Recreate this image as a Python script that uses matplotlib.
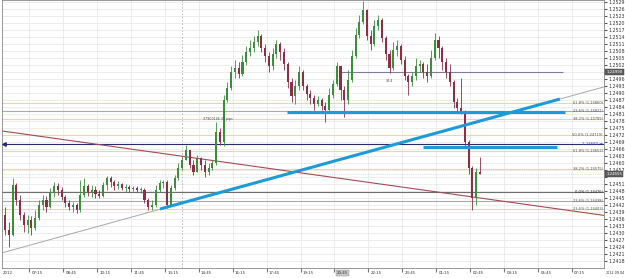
import numpy as np
import matplotlib.pyplot as plt
from matplotlib.transforms import blended_transform_factory

# ---- candle data (M5 style) ----
first_open = 1.24378
closes = [1.24313, 1.24292, 1.24506, 1.24442, 1.24378, 1.24335, 1.24356, 1.24322, 1.24365, 1.24421,
          1.24442, 1.24412, 1.24472, 1.24502, 1.24485, 1.24455, 1.24429, 1.24412, 1.24421, 1.24399,
          1.24463, 1.24502, 1.24476, 1.24485, 1.24468, 1.24459, 1.24506, 1.24536, 1.24519, 1.24502,
          1.24511, 1.24493, 1.24498, 1.24489, 1.24493, 1.24485, 1.24485, 1.24442, 1.24412, 1.24421,
          1.24485, 1.24515, 1.24519, 1.24421, 1.24493, 1.24536, 1.24579, 1.24613, 1.24656, 1.24592,
          1.24562, 1.24622, 1.24592, 1.24562, 1.24579, 1.24601, 1.24734, 1.24691, 1.24871, 1.24922,
          1.24991, 1.25008, 1.24983, 1.25034, 1.25077, 1.25094, 1.25120, 1.25146, 1.25094, 1.25060,
          1.25017, 1.25068, 1.25111, 1.25077, 1.25025, 1.24948, 1.24888, 1.24931, 1.24991, 1.24931,
          1.24897, 1.24880, 1.24854, 1.24871, 1.24845, 1.24828, 1.24892, 1.24940, 1.25017, 1.24914,
          1.24871, 1.24957, 1.25060, 1.25150, 1.25206, 1.25257, 1.25146, 1.25111, 1.25188, 1.25214,
          1.25137, 1.25068, 1.25008, 1.25085, 1.25103, 1.25043, 1.24974, 1.24948, 1.24974, 1.25017,
          1.25025, 1.24991, 1.24974, 1.25051, 1.25128, 1.25094, 1.25034, 1.24991, 1.24948, 1.24862,
          1.24837, 1.24820, 1.24691, 1.24579, 1.24450, 1.24562, 1.24555]
highs = [1.24412, 1.24348, 1.24536, 1.24515, 1.24463, 1.24390, 1.24378, 1.24373, 1.24399, 1.24442,
         1.24463, 1.24459, 1.24493, 1.24519, 1.24515, 1.24498, 1.24463, 1.24442, 1.24433, 1.24429,
         1.24528, 1.24536, 1.24511, 1.24506, 1.24502, 1.24485, 1.24519, 1.24545, 1.24545, 1.24528,
         1.24524, 1.24515, 1.24511, 1.24506, 1.24502, 1.24502, 1.24498, 1.24493, 1.24450, 1.24442,
         1.24506, 1.24528, 1.24528, 1.24528, 1.24506, 1.24549, 1.24601, 1.24631, 1.24678, 1.24656,
         1.24613, 1.24635, 1.24626, 1.24613, 1.24601, 1.24613, 1.24777, 1.24751, 1.24892, 1.24948,
         1.25017, 1.25043, 1.25034, 1.25064, 1.25103, 1.25128, 1.25146, 1.25171, 1.25154, 1.25111,
         1.25077, 1.25094, 1.25128, 1.25120, 1.25094, 1.25034, 1.24965, 1.24957, 1.25017, 1.25000,
         1.24940, 1.24914, 1.24892, 1.24888, 1.24880, 1.24862, 1.24922, 1.24957, 1.25034, 1.25017,
         1.24931, 1.25000, 1.25085, 1.25180, 1.25236, 1.25295, 1.25262, 1.25171, 1.25214, 1.25236,
         1.25223, 1.25146, 1.25085, 1.25120, 1.25128, 1.25111, 1.25060, 1.24983, 1.24991, 1.25051,
         1.25043, 1.25034, 1.25025, 1.25085, 1.25158, 1.25146, 1.25103, 1.25051, 1.25025, 1.24957,
         1.24880, 1.24965, 1.24828, 1.24699, 1.24588, 1.24579, 1.24626]
lows = [1.24292, 1.24240, 1.24288, 1.24421, 1.24356, 1.24305, 1.24300, 1.24292, 1.24313, 1.24356,
        1.24399, 1.24390, 1.24408, 1.24455, 1.24463, 1.24442, 1.24412, 1.24399, 1.24390, 1.24386,
        1.24390, 1.24455, 1.24459, 1.24455, 1.24450, 1.24450, 1.24455, 1.24485, 1.24498, 1.24485,
        1.24489, 1.24485, 1.24476, 1.24476, 1.24481, 1.24476, 1.24472, 1.24429, 1.24399, 1.24399,
        1.24412, 1.24476, 1.24493, 1.24408, 1.24421, 1.24485, 1.24528, 1.24570, 1.24613, 1.24579,
        1.24549, 1.24562, 1.24570, 1.24541, 1.24549, 1.24570, 1.24592, 1.24678, 1.24674, 1.24862,
        1.24914, 1.24965, 1.24965, 1.24974, 1.25021, 1.25060, 1.25077, 1.25103, 1.25077, 1.25034,
        1.24991, 1.25000, 1.25051, 1.25043, 1.25000, 1.24922, 1.24862, 1.24854, 1.24914, 1.24914,
        1.24871, 1.24854, 1.24828, 1.24845, 1.24828, 1.24777, 1.24820, 1.24880, 1.24931, 1.24871,
        1.24798, 1.24854, 1.24948, 1.25051, 1.25137, 1.25197, 1.25128, 1.25085, 1.25103, 1.25171,
        1.25120, 1.25043, 1.24987, 1.25000, 1.25060, 1.25025, 1.24957, 1.24892, 1.24931, 1.24957,
        1.24991, 1.24965, 1.24948, 1.24965, 1.25043, 1.25051, 1.25000, 1.24965, 1.24931, 1.24837,
        1.24815, 1.24811, 1.24674, 1.24554, 1.24399, 1.24421, 1.24554]

time_labels = ['07:15', '08:45', '10:15', '11:45', '13:15', '14:45', '16:15', '17:45', '19:15',
               '20:45', '22:15', '23:45', '01:15', '02:45', '04:15', '05:45', '07:15']
highlight_label = '20:45'

# fibonacci levels drawn on the chart
fib_prices = [1.24860, 1.24822, 1.24789, 1.24719, 1.24652, 1.24575, 1.24476, 1.24438, 1.24403]
fib_names = ['61.8%', '23.6%', '38.2%', '50.0%', '61.8%', '38.2%', '0.0%', '23.6%', '23.6%']
fib_kinds = ['yellow', 'grey', 'yellow', 'yellow', 'yellow', 'yellow', 'dark', 'grey', 'yellow']

# other objects: (bar index, price)
res_level, res_from, res_to = 1.24990, 88.5, 148.0
alert_level = 1.24680
blue_levels = [1.24820, 1.24670]
blue_from = [74.8, 110.9]
blue_to = [148.5, 146.4]
trend_t = [-0.8, 147.2]
trend_p = [1.24215, 1.24875]
blue_trend_t = [41.1, 147.2]
blue_trend_p = [1.24403, 1.24875]
red_t = [-0.8, 154.4]
red_p = [1.24738, 1.24386]
separator_bar = 47

opens = [first_open] + closes[:-1]
x = np.arange(len(closes))

fig = plt.figure(figsize=(6.25, 2.78), dpi=100)
ax = fig.add_axes([2 / 625, 10 / 278, 602 / 625, 268 / 278])
ax.set_xlim(-0.8, 158.9)
ax.set_ylim(1.2415, 1.2530)

# grid
y_ticks = np.round(np.arange(1.2418, 1.25295, 0.0003), 4)
t_pos = 6.4 + 9 * np.arange(len(time_labels))
ax.set_yticks(y_ticks)
ax.set_xticks(t_pos)
ax.grid(color='#e6e6e6', lw=0.5)
ax.set_axisbelow(True)

# fib lines + labels
fib_colors = {'yellow': '#e8dc95', 'grey': '#aaaaaa', 'dark': '#6e6e6e'}
for p, n, k in zip(fib_prices, fib_names, fib_kinds):
    ax.axhline(p, color=fib_colors[k], lw=0.8, zorder=1)
    ax.text(158.6, p, f'{n} ({p:.5f})', ha='right', va='center', fontsize=2.6,
            color='#222222' if k == 'dark' else '#555555', zorder=5)

ax.axvline(separator_bar, color='#b5b5b5', lw=0.6, ls=(0, (2, 2)), zorder=1)
ax.hlines(res_level, res_from, res_to, color='#7c7c9c', lw=0.8, zorder=2)
ax.axhline(closes[-1], color='#c4c4c4', lw=0.5, ls=':', zorder=1)

# alert line
ax.axhline(alert_level, color='#2b2b6b', lw=0.8, zorder=2)
ax.plot(-0.4, alert_level, marker='<', ms=2.5, color='#2b2b6b', zorder=3)

# trend lines
ax.axline((trend_t[0], trend_p[0]), (trend_t[1], trend_p[1]), color='#a8a8a8', lw=0.7, zorder=2)
ax.axline((red_t[0], red_p[0]), (red_t[1], red_p[1]), color='#a14b57', lw=0.8, zorder=2)
ax.plot(blue_trend_t, blue_trend_p, color='#1e9bd7', lw=2.2, solid_capstyle='butt', zorder=4)
ax.hlines(blue_levels, blue_from, blue_to, color='#1e9bd7', lw=2.2, zorder=4)

# candles
bull = '#3b8f3b'
bear = '#8c2f45'
cols = [bull if c >= o else bear for o, c in zip(opens, closes)]
ax.vlines(x, lows, highs, colors=cols, lw=0.6, zorder=3)
body = np.array(closes) - np.array(opens)
body = np.where(np.abs(body) < 0.00002, 0.00002, body)
ax.bar(x, body, bottom=opens, width=0.55, color=cols, lw=0, zorder=3)

# object texts
ax.text(56.5, 1.24789, '37900146.39 pips', fontsize=2.3, color='#444444', ha='center', va='center')
ax.text(101.9, 1.24952, '38.4', fontsize=2.3, color='#444444', ha='center', va='center')

# axes styling; price boxes replace the tick labels they cover
box_levels = [res_level, closes[-1]]
ax.yaxis.tick_right()
ax.set_yticklabels(['' if min(abs(v - b) for b in box_levels) < 0.00015 else f'{v:.4f}'
                    for v in y_ticks])
ax.tick_params(axis='y', labelsize=3.4, length=2, pad=1, colors='#555555', labelcolor='#333333')
ax.tick_params(axis='x', length=3, colors='#777777', labelbottom=False)
for s in ax.spines.values():
    s.set_color('#888888')
    s.set_linewidth(0.6)

trans = blended_transform_factory(ax.transData, ax.transAxes)
ax.text(-0.5, -0.012, '2012', transform=trans, fontsize=2.8, ha='left', va='top', color='#333333')
for tp, lab in zip(t_pos, time_labels):
    box = dict(boxstyle='square,pad=0.2', fc='#c8c8c8', ec='#888888', lw=0.3) if lab == highlight_label else None
    ax.text(tp + 0.6, -0.012, lab, transform=trans, fontsize=2.8, ha='left', va='top',
            color='#333333', bbox=box)
fig.text(606 / 625, 1 - 273 / 278, '2012.09.04', fontsize=2.4, color='#333333', va='center')

# right-side price boxes
rtrans = blended_transform_factory(ax.transAxes, ax.transData)
for lvl in box_levels:
    ax.text(1.004, lvl, f'{lvl:.5f}', transform=rtrans, fontsize=2.8, color='white', ha='left',
            va='center', clip_on=False, zorder=6,
            bbox=dict(boxstyle='square,pad=0.25', fc='#5f5f5f', ec='#333333', lw=0.3))
ax.text(0.997, alert_level, f'{alert_level:.5f} \u2192', transform=rtrans, fontsize=2.8,
        color='#2450c8', ha='right', va='center', zorder=6)

fig.savefig('out.png', dpi=100, facecolor='white')
